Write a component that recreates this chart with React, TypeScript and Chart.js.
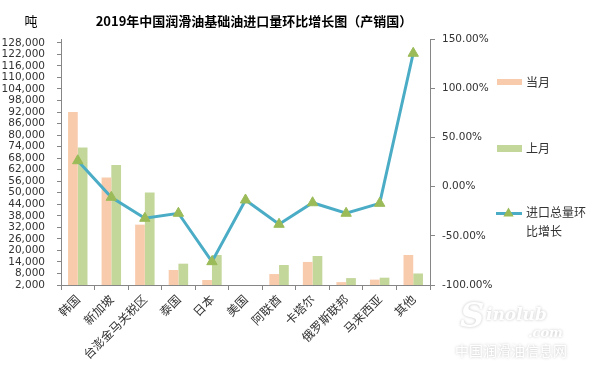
import React, { useEffect, useRef } from "react";
import { Chart, registerables } from "chart.js";

Chart.register(...registerables);

// ---- data ----
const categories = ["韩国", "新加坡", "台澎金马关税区", "泰国", "日本", "美国", "阿联酋", "卡塔尔", "俄罗斯联邦", "马来西亚", "其他"];
const currentMonth = [92000, 57900, 33400, 9800, 4600, 1000, 7700, 14000, 3500, 4800, 17600];
const lastMonth = [73500, 64500, 50100, 13100, 17600, 1000, 12400, 17100, 5600, 5800, 8000];
const growthPct = [26.3, -10.9, -32.2, -27.1, -76.3, -13.6, -38.3, -16.4, -27.1, -17.0, 135.5];
const leftAxis = [2000, 130000, 6000]; // min, max, step
const rightAxis = [-100, 150, 50]; // min, max, step
const seriesNames = ["当月", "上月", "进口总量环比增长"];
const titleText = "2019年中国润滑油基础油进口量环比增长图（产销国）";
const unitText = "吨";

const PEACH = "#F8CBAD";
const GREEN = "#C4D79B";
const LINE = "#4BACC6";
const MARK = "#9BBB59";
const AXIS = "#868686";
const TEXT = "#333333";
const CJK = '"Noto Sans CJK SC", sans-serif';
const NUM = '"DejaVu Sans", sans-serif';

const overlay = {
  id: "overlay",
  afterDraw(chart: any) {
    const ctx = chart.ctx as CanvasRenderingContext2D;
    ctx.save();
    // title
    ctx.fillStyle = "#000";
    ctx.textBaseline = "middle";
    ctx.textAlign = "center";
    ctx.font = `bold 13px ${CJK}`;
    ctx.fillText(titleText, 254, 21);
    ctx.font = `13px ${CJK}`;
    ctx.fillText(unitText, 31, 21);

    // legend
    ctx.textAlign = "left";
    ctx.font = `12px ${CJK}`;
    ctx.fillStyle = PEACH;
    ctx.fillRect(497, 79, 25, 6);
    ctx.fillStyle = TEXT;
    ctx.fillText(seriesNames[0], 526, 82);
    ctx.fillStyle = GREEN;
    ctx.fillRect(497, 145, 25, 7);
    ctx.fillStyle = TEXT;
    ctx.fillText(seriesNames[1], 526, 148.5);
    ctx.strokeStyle = LINE;
    ctx.lineWidth = 3;
    ctx.beginPath();
    ctx.moveTo(496, 213.5);
    ctx.lineTo(522, 213.5);
    ctx.stroke();
    ctx.fillStyle = MARK;
    ctx.beginPath();
    const cx = 508.5, cy = 213.5, r = 6;
    ctx.moveTo(cx, cy - r);
    ctx.lineTo(cx + r * 0.866, cy + r * 0.5);
    ctx.lineTo(cx - r * 0.866, cy + r * 0.5);
    ctx.closePath();
    ctx.fill();
    ctx.fillStyle = TEXT;
    const name = seriesNames[2];
    ctx.fillText(name.slice(0, 5), 526, 212.5);
    ctx.fillText(name.slice(5), 526, 231.5);

    // watermark
    ctx.shadowColor = "rgba(0,0,0,0.25)";
    ctx.shadowBlur = 3;
    ctx.fillStyle = "#ffffff";
    ctx.font = `italic bold 34px "DejaVu Serif", serif`;
    ctx.textBaseline = "alphabetic";
    ctx.fillText("S", 460, 327);
    ctx.font = `italic bold 17px "DejaVu Serif", serif`;
    ctx.fillText("inolub", 486, 320);
    ctx.font = `italic bold 13px "DejaVu Serif", serif`;
    ctx.fillText(".com", 528, 337);
    ctx.font = `14px ${CJK}`;
    ctx.textBaseline = "middle";
    ctx.fillText("中国润滑油信息网", 455, 351);
    ctx.restore();
  },
};

export default function App() {
  const ref = useRef<HTMLCanvasElement | null>(null);
  useEffect(() => {
    document.body.style.margin = "0";
    const canvas = ref.current;
    if (!canvas) return;
    const chart = new Chart(canvas, {
      type: "bar",
      data: {
        labels: categories,
        datasets: [
          {
            type: "line",
            label: seriesNames[2],
            data: growthPct,
            yAxisID: "y1",
            borderColor: LINE,
            borderWidth: 3,
            backgroundColor: MARK,
            pointStyle: "triangle",
            pointRadius: 6,
            pointBackgroundColor: MARK,
            pointBorderColor: MARK,
            pointBorderWidth: 1,
            tension: 0,
            order: 0,
          } as any,
          {
            label: seriesNames[0],
            data: currentMonth,
            yAxisID: "y",
            backgroundColor: PEACH,
            categoryPercentage: 0.58,
            barPercentage: 1,
            clip: 0,
            order: 1,
          } as any,
          {
            label: seriesNames[1],
            data: lastMonth,
            yAxisID: "y",
            backgroundColor: GREEN,
            categoryPercentage: 0.58,
            barPercentage: 1,
            clip: 0,
            order: 1,
          } as any,
        ],
      },
      options: {
        responsive: false,
        animation: false,
        devicePixelRatio: 1,
        layout: { padding: { top: 39, left: 0, right: 0, bottom: 0 } },
        plugins: {
          legend: { display: false },
          title: { display: false },
          tooltip: { enabled: false },
        },
        scales: {
          x: {
            grid: {
              display: true,
              drawOnChartArea: false,
              drawTicks: true,
              tickLength: 5,
              color: AXIS,
              offset: true,
            },
            border: { display: true, color: AXIS },
            ticks: {
              autoSkip: false,
              minRotation: 45,
              maxRotation: 45,
              padding: 2,
              color: TEXT,
              font: { family: CJK, size: 12 },
            },
            afterFit: (s: any) => {
              s.height = 89;
            },
          },
          y: {
            position: "left",
            min: leftAxis[0],
            max: leftAxis[1],
            grid: { display: true, drawOnChartArea: false, tickLength: 4, color: AXIS },
            border: { display: true, color: AXIS },
            ticks: {
              stepSize: leftAxis[2],
              maxTicksLimit: 100,
              autoSkip: false,
              includeBounds: false,
              padding: 12,
              color: TEXT,
              font: { family: NUM, size: 10.5 },
              callback: (v: any) => Number(v).toLocaleString("en-US"),
            },
            afterBuildTicks: (s: any) => {
              const t: any[] = [];
              for (let v = leftAxis[0]; v <= leftAxis[1]; v += leftAxis[2]) t.push({ value: v });
              s.ticks = t;
            },
            afterFit: (s: any) => {
              s.width = 61;
            },
          },
          y1: {
            position: "right",
            min: rightAxis[0],
            max: rightAxis[1],
            grid: { display: true, drawOnChartArea: false, tickLength: 5, color: AXIS },
            border: { display: true, color: AXIS },
            ticks: {
              stepSize: rightAxis[2],
              padding: 7,
              color: TEXT,
              font: { family: NUM, size: 10.5 },
              callback: (v: any) => Number(v).toFixed(2) + "%",
            },
            afterFit: (s: any) => {
              s.width = 166;
            },
          },
        },
      },
      plugins: [overlay],
    });
    return () => chart.destroy();
  }, []);
  return (
    <div style={{ width: 596, height: 374 }}>
      <canvas ref={ref} width={596} height={374} style={{ display: "block" }} />
    </div>
  );
}
